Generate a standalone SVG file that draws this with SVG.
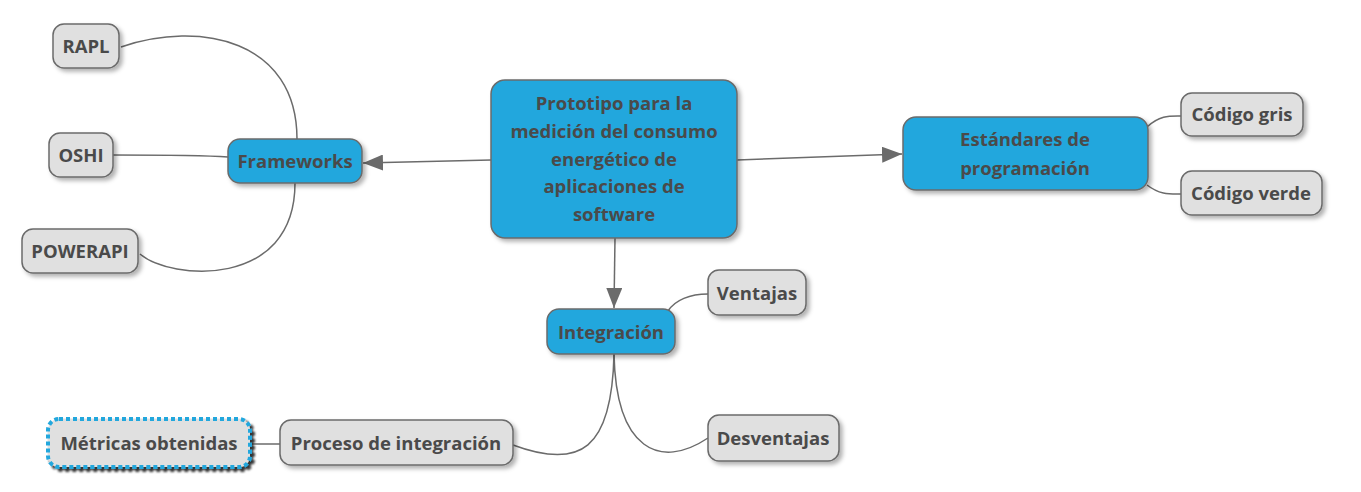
<svg xmlns="http://www.w3.org/2000/svg" width="1361" height="492" viewBox="0 0 1361 492">
<style>
.t{font-family:"Open Sans","Noto Sans",sans-serif;font-weight:bold;font-size:18.5px;fill:#4a4a4a;text-anchor:middle;dominant-baseline:central}
.main{fill:#22a7dd;stroke:#6b6b6b;stroke-width:1.5}
.leaf{fill:#e0e0e0;stroke:#6b6b6b;stroke-width:1.5}
.c{fill:none;stroke:#6b6b6b;stroke-width:1.5}
</style>
<defs>
<filter id="sh" x="-20%" y="-20%" width="140%" height="150%">
<feDropShadow dx="3" dy="3" stdDeviation="2" flood-color="#000" flood-opacity="0.3"/>
</filter>
<filter id="sh2" x="-20%" y="-20%" width="140%" height="150%">
<feDropShadow dx="3" dy="3" stdDeviation="1" flood-color="#000" flood-opacity="0.8"/>
</filter>
<marker id="ar" viewBox="0 0 20 16" refX="20" refY="8" markerWidth="20" markerHeight="16" markerUnits="userSpaceOnUse" orient="auto">
<path d="M0,0 L20,8 L0,16 z" fill="#6b6b6b"/>
</marker>
</defs>
<g id="connectors">
<path class="c" d="M491,160 L363,163" marker-end="url(#ar)"/>
<path class="c" d="M737,160 L902,154" marker-end="url(#ar)"/>
<path class="c" d="M615,238 L614,308" marker-end="url(#ar)"/>
<path class="c" d="M297,139 C297,40 200,20 121,47"/>
<path class="c" d="M113,155 C170,155 200,155 228,157"/>
<path class="c" d="M295,183 C295,290 170,280 140,254"/>
<path class="c" d="M1147,127 C1160,115 1170,116 1181,116"/>
<path class="c" d="M1147,185 C1160,195 1170,194 1181,194"/>
<path class="c" d="M668,311 C675,300 690,294 708,294"/>
<path class="c" d="M614,354 C616,450 660,470 708,438"/>
<path class="c" d="M614,354 C612,450 580,470 513,445"/>
<path class="c" d="M250,444 L280,444"/>
</g>
<g id="central">
<rect class="main" filter="url(#sh)" x="491" y="80" width="246" height="158" rx="14"/>
<text class="t"><tspan x="614" y="102">Prototipo para la</tspan><tspan x="614" y="130">medición del consumo</tspan><tspan x="614" y="158">energético de</tspan><tspan x="614" y="185">aplicaciones de</tspan><tspan x="614" y="213">software</tspan></text>
</g>
<g id="frameworks">
<rect class="main" filter="url(#sh)" x="228" y="139" width="134" height="44" rx="12"/>
<text class="t" x="295" y="160">Frameworks</text>
</g>
<g id="rapl">
<rect class="leaf" filter="url(#sh)" x="53" y="24" width="66" height="44" rx="11"/>
<text class="t" x="86" y="45">RAPL</text>
</g>
<g id="oshi">
<rect class="leaf" filter="url(#sh)" x="49" y="133" width="64" height="44" rx="11"/>
<text class="t" x="81" y="154">OSHI</text>
</g>
<g id="powerapi">
<rect class="leaf" filter="url(#sh)" x="22" y="229" width="116" height="44" rx="11"/>
<text class="t" x="80" y="250">POWERAPI</text>
</g>
<g id="estandares">
<rect class="main" filter="url(#sh)" x="903" y="117" width="245" height="73" rx="13"/>
<text class="t"><tspan x="1025" y="138">Estándares de</tspan><tspan x="1025" y="167">programación</tspan></text>
</g>
<g id="codigo-gris">
<rect class="leaf" filter="url(#sh)" x="1181" y="93" width="122" height="43" rx="11"/>
<text class="t" x="1242" y="113">Código gris</text>
</g>
<g id="codigo-verde">
<rect class="leaf" filter="url(#sh)" x="1181" y="171" width="141" height="44" rx="11"/>
<text class="t" x="1251" y="192">Código verde</text>
</g>
<g id="integracion">
<rect class="main" filter="url(#sh)" x="547" y="309" width="128" height="45" rx="12"/>
<text class="t" x="611" y="331">Integración</text>
</g>
<g id="ventajas">
<rect class="leaf" filter="url(#sh)" x="708" y="270" width="98" height="45" rx="11"/>
<text class="t" x="757" y="292">Ventajas</text>
</g>
<g id="desventajas">
<rect class="leaf" filter="url(#sh)" x="708" y="415" width="131" height="46" rx="11"/>
<text class="t" x="773" y="437">Desventajas</text>
</g>
<g id="proceso">
<rect class="leaf" filter="url(#sh)" x="280" y="420" width="233" height="45" rx="11"/>
<text class="t" x="396" y="442">Proceso de integración</text>
</g>
<g id="metricas">
<rect fill="#e0e0e0" stroke="#22a7dd" stroke-width="4" stroke-dasharray="4,3" filter="url(#sh2)" x="48" y="419" width="202" height="48" rx="11"/>
<text class="t" x="149" y="442">Métricas obtenidas</text>
</g>
</svg>
